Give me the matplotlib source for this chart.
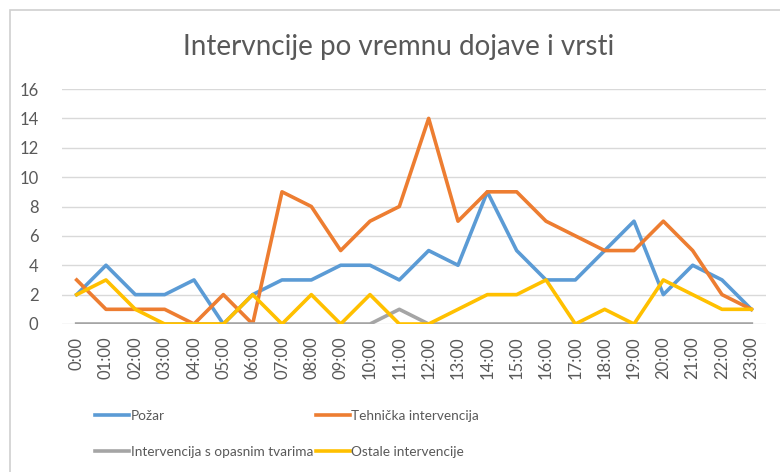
import matplotlib
matplotlib.use("Agg")
import matplotlib.pyplot as plt
from matplotlib.patches import Rectangle
import numpy as np

hours = ["0:00"] + ["%02d:00" % h for h in range(1, 24)]
pozar = [2, 4, 2, 2, 3, 0, 2, 3, 3, 4, 4, 3, 5, 4, 9, 5, 3, 3, 5, 7, 2, 4, 3, 1]
tehnicka = [3, 1, 1, 1, 0, 2, 0, 9, 8, 5, 7, 8, 14, 7, 9, 9, 7, 6, 5, 5, 7, 5, 2, 1]
opasne = [0, 0, 0, 0, 0, 0, 0, 0, 0, 0, 0, 1, 0, 0, 0, 0, 0, 0, 0, 0, 0, 0, 0, 0]
ostale = [2, 3, 1, 0, 0, 0, 2, 0, 2, 0, 2, 0, 0, 1, 2, 2, 3, 0, 1, 0, 3, 2, 1, 1]

series = [
    ("Požar", pozar, "#5B9BD5"),
    ("Tehnička intervencija", tehnicka, "#ED7D31"),
    ("Intervencija s opasnim tvarima", opasne, "#A5A5A5"),
    ("Ostale intervencije", ostale, "#FFC000"),
]

plt.rcParams['font.family'] = ['Lato', 'DejaVu Sans']

W, H = 780, 472
fig = plt.figure(figsize=(W / 100, H / 100), dpi=100)
fig.patches.append(Rectangle((10 / W, -0.1), 1.2, (H - 10) / H + 0.1,
                             transform=fig.transFigure, fill=False,
                             edgecolor="#D0D0D0", linewidth=1.2))

ax = fig.add_axes([62 / W, 1 - 324 / H, (766 - 62) / W, (324 - 89) / H])
x = np.arange(len(hours))
lines = {}
for name, vals, col in series:
    ln, = ax.plot(x, vals, color=col, linewidth=2.6, label=name,
                  solid_joinstyle="round")
    lines[name] = ln

ax.set_xlim(-0.5, len(hours) - 0.5)
ax.set_ylim(0, 16)
ax.set_yticks(range(0, 17, 2))
ax.set_xticks(x)
ax.set_xticklabels(hours, rotation=90, fontsize=12, color="#595959")
ax.tick_params(axis="y", labelsize=12, colors="#595959", length=0, pad=17)
ax.tick_params(axis="x", length=0, pad=9)
ax.grid(axis="y", color="#D9D9D9", linewidth=1)
ax.set_axisbelow(True)
for s in ax.spines.values():
    s.set_visible(False)

fig.text(399 / W, 1 - 47 / H, "Intervncije po vremnu dojave i vrsti", ha="center",
         va="center", fontsize=20, color="#595959")

# row-wise legend order (matplotlib fills columns first)
order = ["Požar", "Intervencija s opasnim tvarima",
         "Tehnička intervencija", "Ostale intervencije"]
leg = fig.legend([lines[n] for n in order], order, ncol=2, loc="upper left",
                 bbox_to_anchor=(95 / W, 1 - 410 / H), frameon=False,
                 fontsize=9.8, handlelength=2.5, handletextpad=0.12,
                 columnspacing=0.2, labelspacing=1.75, borderpad=0,
                 borderaxespad=0)
for t in leg.get_texts():
    t.set_color("#595959")

fig.savefig("out.png", dpi=100, facecolor="white")
